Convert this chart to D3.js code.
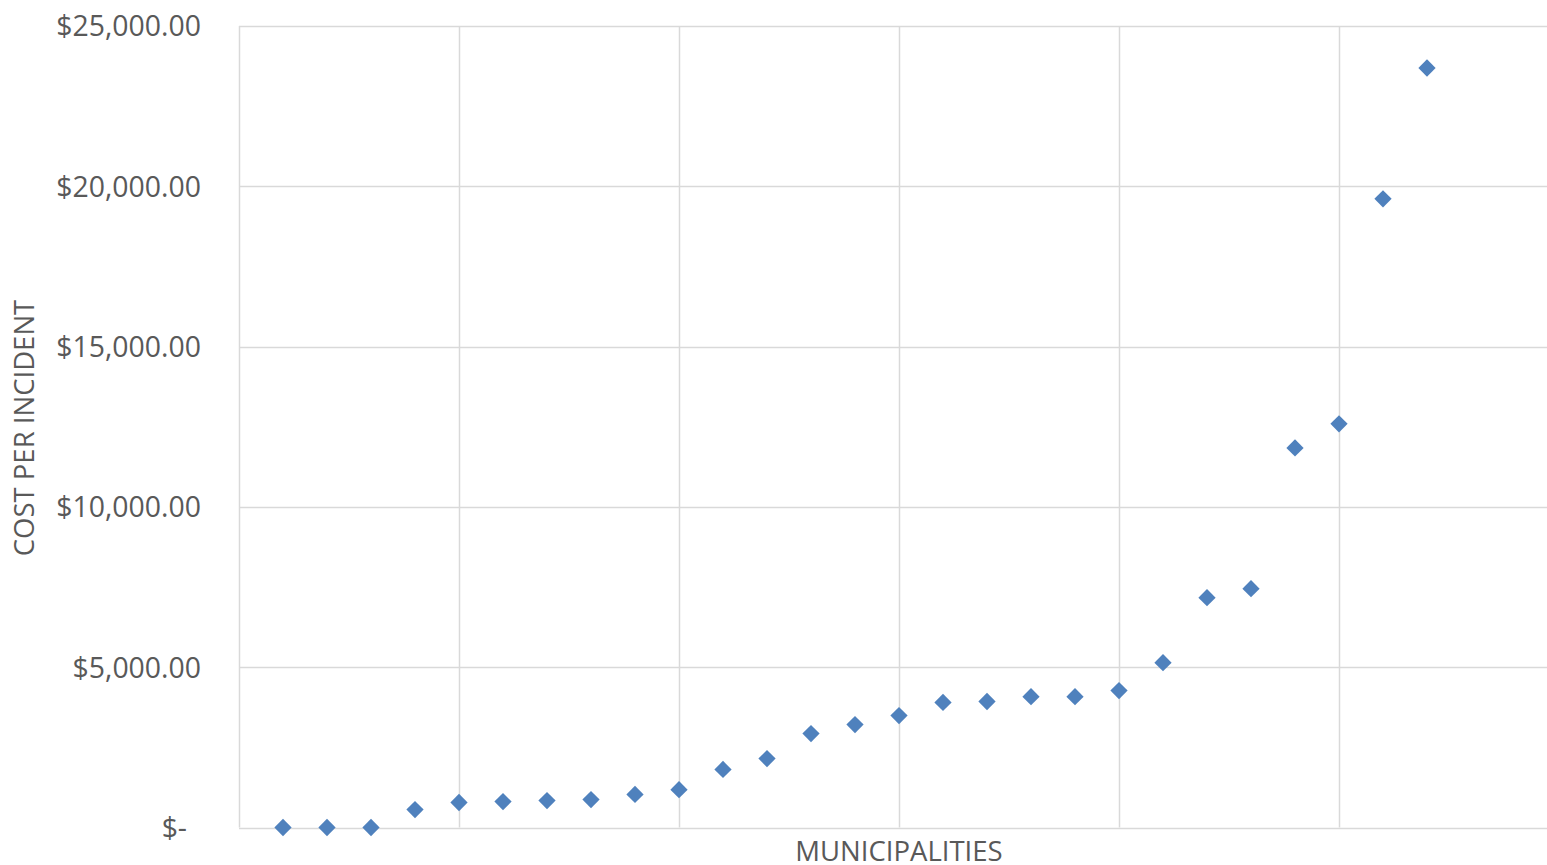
<!DOCTYPE html>
<html>
<head>
<meta charset="utf-8">
<script src="https://cdn.jsdelivr.net/npm/d3@7"></script>
<style>
  html, body { margin: 0; padding: 0; background: #fff; overflow: hidden; }
  text { font-family: "Open Sans", "Noto Sans", sans-serif; fill: #595959; }
</style>
</head>
<body>
<div id="chart"></div>
<script>
// municipality index (1..27) and cost per incident
const municipalities = d3.range(1, 28);
const costPerIncident = [
  0, 0, 0, 560, 780, 810, 840, 870, 1030, 1180,
  1810, 2150, 2930, 3210, 3490, 3900, 3930, 4080, 4080, 4270,
  5140, 7170, 7450, 11840, 12590, 19610, 23690
];
const yTicks = [0, 5000, 10000, 15000, 20000, 25000];
const xTicks = [0, 5, 10, 15, 20, 25, 30];

const d3Config = {
  viewportWidth: 1547,
  viewportHeight: 865,
  margin: { top: 26, left: 239, bottom: 37 },
  plotRight: 1559,
  xAxisTitle: 'MUNICIPALITIES',
  yAxisTitle: 'COST PER INCIDENT',
  color: '#4f81bd',
  gridColor: '#d9d9d9'
};

const data = municipalities.map((m, i) => ({ x: m, value: costPerIncident[i] }));

const svg = d3.select('#chart')
  .append('svg')
  .attr('width', d3Config.viewportWidth)
  .attr('height', d3Config.viewportHeight);

const xMapper = d3.scaleLinear()
  .domain([0, 30])
  .range([d3Config.margin.left, d3Config.plotRight]);

const yMapper = d3.scaleLinear()
  .domain([0, 25000])
  .range([d3Config.viewportHeight - d3Config.margin.bottom - 0.5, d3Config.margin.top]);

// gridlines
svg.append('g')
  .selectAll('line')
  .data(xTicks)
  .enter()
  .append('line')
  .attr('x1', d => Math.round(xMapper(d)) + 0.5)
  .attr('x2', d => Math.round(xMapper(d)) + 0.5)
  .attr('y1', yMapper(25000))
  .attr('y2', yMapper(0))
  .attr('stroke', d3Config.gridColor)
  .attr('stroke-width', 1.5);

svg.append('g')
  .selectAll('line')
  .data(yTicks)
  .enter()
  .append('line')
  .attr('x1', xMapper(0))
  .attr('x2', xMapper(30))
  .attr('y1', d => Math.round(yMapper(d)) + 0.5)
  .attr('y2', d => Math.round(yMapper(d)) + 0.5)
  .attr('stroke', d3Config.gridColor)
  .attr('stroke-width', 1.5);

// y axis labels
const money = d3.format('$,.2f');
const yAxis = svg.append('g')
  .attr('transform', `translate(${d3Config.margin.left},0)`)
  .call(d3.axisLeft(yMapper)
    .tickValues(yTicks)
    .tickSize(0)
    .tickPadding(38)
    .tickFormat(d => d === 0 ? '$-' : money(d)));
yAxis.select('.domain').remove();
yAxis.selectAll('text')
  .style('font-family', '"Open Sans", sans-serif')
  .style('font-size', '28.4px')
  .style('fill', '#595959')
  .attr('dy', '0.35em')
  .attr('x', d => d === 0 ? -52 : -38);

// points
svg.append('g')
  .selectAll('path')
  .data(data)
  .enter()
  .append('path')
  .attr('d', d3.symbol().type(d3.symbolDiamond2).size(190))
  .attr('transform', d => `translate(${xMapper(d.x)},${yMapper(d.value)})`)
  .attr('fill', d3Config.color);

// x axis title
svg.append('text')
  .attr('text-anchor', 'middle')
  .attr('x', xMapper(15))
  .attr('y', 861)
  .style('font-size', '27.5px')
  .text(d3Config.xAxisTitle);

// y axis title
svg.append('text')
  .attr('text-anchor', 'middle')
  .attr('transform', 'rotate(-90)')
  .attr('x', -428)
  .attr('y', 34)
  .style('font-size', '27.5px')
  .text(d3Config.yAxisTitle);
</script>
</body>
</html>
